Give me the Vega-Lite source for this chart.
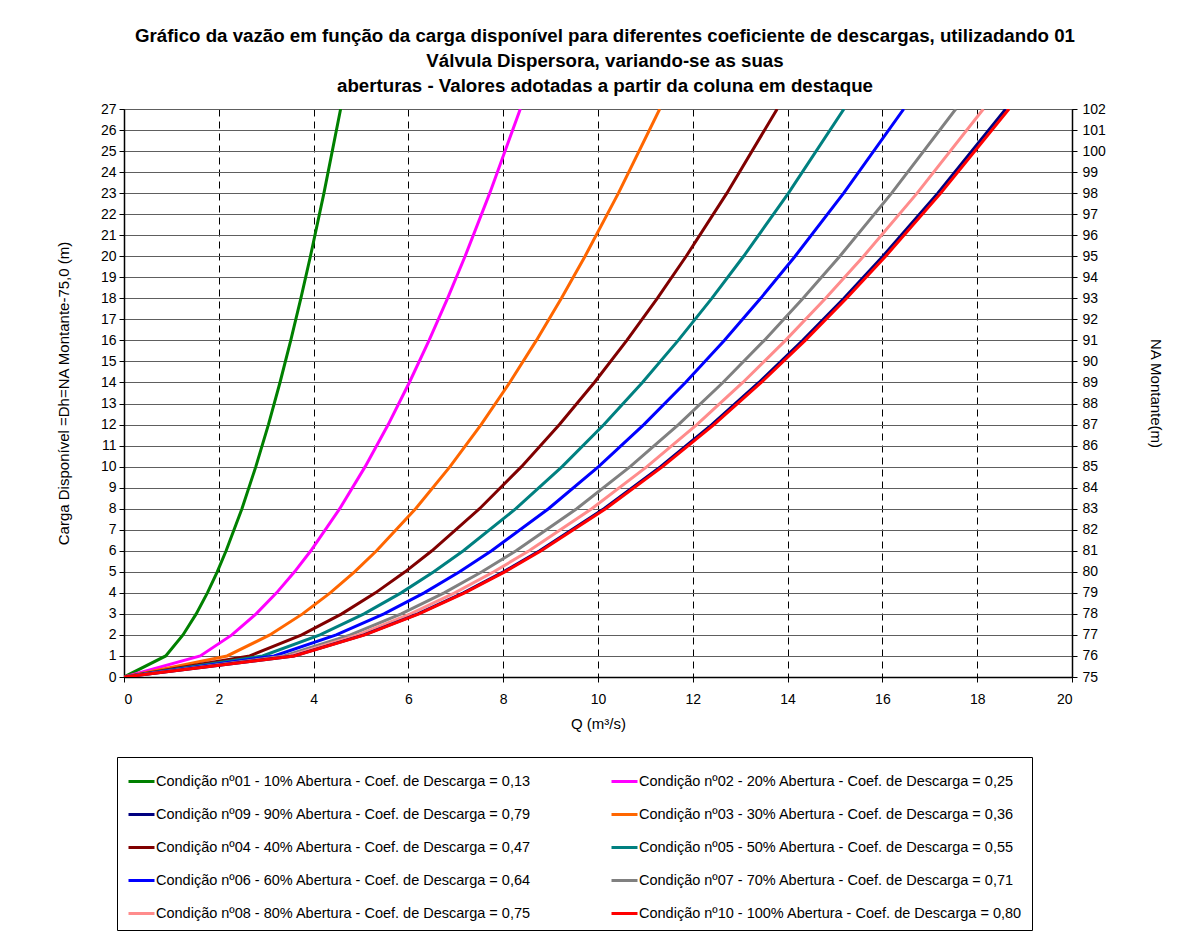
{
  "$schema": "https://vega.github.io/schema/vega-lite/v6.json",
  "width": 948,
  "height": 568,
  "autosize": {"type": "none"},
  "padding": {"left": 124, "top": 109, "right": 114, "bottom": 268},
  "background": "white",
  "title": {
    "text": ["Gráfico da vazão em função da carga disponível para diferentes coeficiente de descargas, utilizadando 01", "Válvula Dispersora, variando-se as suas", "aberturas - Valores adotadas a partir da coluna em destaque"],
    "font": "Liberation Sans",
    "fontSize": 18.7,
    "fontWeight": "bold",
    "color": "black",
    "lineHeight": 25,
    "anchor": "middle",
    "dx": 7,
    "offset": 6
  },
  "datasets": {
    "series": [
      {"s": "01", "label": "Condição nº01 - 10% Abertura - Coef. de Descarga = 0,13"},
      {"s": "02", "label": "Condição nº02 - 20% Abertura - Coef. de Descarga = 0,25"},
      {"s": "03", "label": "Condição nº03 - 30% Abertura - Coef. de Descarga = 0,36"},
      {"s": "04", "label": "Condição nº04 - 40% Abertura - Coef. de Descarga = 0,47"},
      {"s": "05", "label": "Condição nº05 - 50% Abertura - Coef. de Descarga = 0,55"},
      {"s": "06", "label": "Condição nº06 - 60% Abertura - Coef. de Descarga = 0,64"},
      {"s": "07", "label": "Condição nº07 - 70% Abertura - Coef. de Descarga = 0,71"},
      {"s": "08", "label": "Condição nº08 - 80% Abertura - Coef. de Descarga = 0,75"},
      {"s": "09", "label": "Condição nº09 - 90% Abertura - Coef. de Descarga = 0,79"},
      {"s": "10", "label": "Condição nº10 - 100% Abertura - Coef. de Descarga = 0,80"}
    ]
  },
  "data": {
    "values": [
      {"s":"01","h":0,"q":0},{"s":"01","h":1,"q":0.880},{"s":"01","h":2,"q":1.244},{"s":"01","h":3,"q":1.523},{"s":"01","h":4,"q":1.759},{"s":"01","h":5,"q":1.967},{"s":"01","h":6,"q":2.154},{"s":"01","h":8,"q":2.488},{"s":"01","h":10,"q":2.781},{"s":"01","h":12,"q":3.047},{"s":"01","h":14,"q":3.291},{"s":"01","h":16,"q":3.518},{"s":"01","h":18,"q":3.731},{"s":"01","h":20,"q":3.933},{"s":"01","h":23,"q":4.218},{"s":"01","h":27,"q":4.570},
      {"s":"02","h":0,"q":0},{"s":"02","h":1,"q":1.609},{"s":"02","h":2,"q":2.276},{"s":"02","h":3,"q":2.787},{"s":"02","h":4,"q":3.218},{"s":"02","h":5,"q":3.598},{"s":"02","h":6,"q":3.941},{"s":"02","h":8,"q":4.551},{"s":"02","h":10,"q":5.088},{"s":"02","h":12,"q":5.574},{"s":"02","h":14,"q":6.020},{"s":"02","h":16,"q":6.436},{"s":"02","h":18,"q":6.826},{"s":"02","h":20,"q":7.196},{"s":"02","h":23,"q":7.716},{"s":"02","h":27,"q":8.361},
      {"s":"03","h":0,"q":0},{"s":"03","h":1,"q":2.175},{"s":"03","h":2,"q":3.076},{"s":"03","h":3,"q":3.767},{"s":"03","h":4,"q":4.350},{"s":"03","h":5,"q":4.864},{"s":"03","h":6,"q":5.328},{"s":"03","h":8,"q":6.152},{"s":"03","h":10,"q":6.878},{"s":"03","h":12,"q":7.534},{"s":"03","h":14,"q":8.138},{"s":"03","h":16,"q":8.700},{"s":"03","h":18,"q":9.228},{"s":"03","h":20,"q":9.727},{"s":"03","h":23,"q":10.431},{"s":"03","h":27,"q":11.302},
      {"s":"04","h":0,"q":0},{"s":"04","h":1,"q":2.652},{"s":"04","h":2,"q":3.750},{"s":"04","h":3,"q":4.594},{"s":"04","h":4,"q":5.304},{"s":"04","h":5,"q":5.930},{"s":"04","h":6,"q":6.496},{"s":"04","h":8,"q":7.501},{"s":"04","h":10,"q":8.386},{"s":"04","h":12,"q":9.187},{"s":"04","h":14,"q":9.923},{"s":"04","h":16,"q":10.608},{"s":"04","h":18,"q":11.251},{"s":"04","h":20,"q":11.860},{"s":"04","h":23,"q":12.719},{"s":"04","h":27,"q":13.780},
      {"s":"05","h":0,"q":0},{"s":"05","h":1,"q":2.923},{"s":"05","h":2,"q":4.134},{"s":"05","h":3,"q":5.063},{"s":"05","h":4,"q":5.846},{"s":"05","h":5,"q":6.536},{"s":"05","h":6,"q":7.160},{"s":"05","h":8,"q":8.267},{"s":"05","h":10,"q":9.243},{"s":"05","h":12,"q":10.126},{"s":"05","h":14,"q":10.937},{"s":"05","h":16,"q":11.692},{"s":"05","h":18,"q":12.401},{"s":"05","h":20,"q":13.072},{"s":"05","h":23,"q":14.018},{"s":"05","h":27,"q":15.189},
      {"s":"06","h":0,"q":0},{"s":"06","h":1,"q":3.166},{"s":"06","h":2,"q":4.477},{"s":"06","h":3,"q":5.484},{"s":"06","h":4,"q":6.332},{"s":"06","h":5,"q":7.080},{"s":"06","h":6,"q":7.755},{"s":"06","h":8,"q":8.955},{"s":"06","h":10,"q":10.012},{"s":"06","h":12,"q":10.967},{"s":"06","h":14,"q":11.846},{"s":"06","h":16,"q":12.664},{"s":"06","h":18,"q":13.432},{"s":"06","h":20,"q":14.159},{"s":"06","h":23,"q":15.183},{"s":"06","h":27,"q":16.451},
      {"s":"07","h":0,"q":0},{"s":"07","h":1,"q":3.377},{"s":"07","h":2,"q":4.776},{"s":"07","h":3,"q":5.849},{"s":"07","h":4,"q":6.754},{"s":"07","h":5,"q":7.551},{"s":"07","h":6,"q":8.272},{"s":"07","h":8,"q":9.551},{"s":"07","h":10,"q":10.679},{"s":"07","h":12,"q":11.698},{"s":"07","h":14,"q":12.636},{"s":"07","h":16,"q":13.508},{"s":"07","h":18,"q":14.327},{"s":"07","h":20,"q":15.102},{"s":"07","h":23,"q":16.195},{"s":"07","h":27,"q":17.548},
      {"s":"08","h":0,"q":0},{"s":"08","h":1,"q":3.489},{"s":"08","h":2,"q":4.934},{"s":"08","h":3,"q":6.043},{"s":"08","h":4,"q":6.978},{"s":"08","h":5,"q":7.802},{"s":"08","h":6,"q":8.546},{"s":"08","h":8,"q":9.868},{"s":"08","h":10,"q":11.033},{"s":"08","h":12,"q":12.086},{"s":"08","h":14,"q":13.055},{"s":"08","h":16,"q":13.956},{"s":"08","h":18,"q":14.802},{"s":"08","h":20,"q":15.603},{"s":"08","h":23,"q":16.733},{"s":"08","h":27,"q":18.130},
      {"s":"09","h":0,"q":0},{"s":"09","h":1,"q":3.580},{"s":"09","h":2,"q":5.063},{"s":"09","h":3,"q":6.201},{"s":"09","h":4,"q":7.160},{"s":"09","h":5,"q":8.005},{"s":"09","h":6,"q":8.769},{"s":"09","h":8,"q":10.126},{"s":"09","h":10,"q":11.321},{"s":"09","h":12,"q":12.401},{"s":"09","h":14,"q":13.395},{"s":"09","h":16,"q":14.320},{"s":"09","h":18,"q":15.189},{"s":"09","h":20,"q":16.010},{"s":"09","h":23,"q":17.169},{"s":"09","h":27,"q":18.602},
      {"s":"10","h":0,"q":0},{"s":"10","h":1,"q":3.593},{"s":"10","h":2,"q":5.081},{"s":"10","h":3,"q":6.223},{"s":"10","h":4,"q":7.186},{"s":"10","h":5,"q":8.034},{"s":"10","h":6,"q":8.801},{"s":"10","h":8,"q":10.162},{"s":"10","h":10,"q":11.362},{"s":"10","h":12,"q":12.447},{"s":"10","h":14,"q":13.444},{"s":"10","h":16,"q":14.372},{"s":"10","h":18,"q":15.244},{"s":"10","h":20,"q":16.068},{"s":"10","h":23,"q":17.231},{"s":"10","h":27,"q":18.670}
    ]
  },
  "transform": [
    {"lookup": "s", "from": {"data": {"name": "series"}, "key": "s", "fields": ["label"]}}
  ],
  "layer": [
    {
      "mark": {"type": "line", "strokeWidth": 3, "clip": true},
      "encoding": {
        "x": {
          "field": "q", "type": "quantitative",
          "scale": {"domain": [0, 20], "nice": false},
          "axis": {
            "title": "Q (m³/s)", "values": [0, 2, 4, 6, 8, 10, 12, 14, 16, 18, 20],
            "grid": true, "gridColor": "black", "gridDash": [7, 5], "gridOpacity": 1, "gridWidth": 1,
            "domainColor": "black", "tickColor": "black", "tickSize": 5, "labelPadding": 10, "titlePadding": 10
          }
        },
        "y": {
          "field": "h", "type": "quantitative",
          "scale": {"domain": [0, 27], "nice": false},
          "axis": {
            "title": "Carga  Disponível =Dh=NA Montante-75,0 (m)",
            "values": [0,1,2,3,4,5,6,7,8,9,10,11,12,13,14,15,16,17,18,19,20,21,22,23,24,25,26,27],
            "grid": true, "gridColor": "#5e5e5e", "gridOpacity": 1, "gridWidth": 1,
            "domainColor": "black", "tickColor": "black", "tickSize": 5, "labelPadding": 3, "titlePadding": 29
          }
        },
        "color": {
          "field": "label", "type": "nominal",
          "scale": {
            "domain": [
              "Condição nº01 - 10% Abertura - Coef. de Descarga = 0,13",
              "Condição nº09 - 90% Abertura - Coef. de Descarga = 0,79",
              "Condição nº04 - 40% Abertura - Coef. de Descarga = 0,47",
              "Condição nº06 - 60% Abertura - Coef. de Descarga = 0,64",
              "Condição nº08 - 80% Abertura - Coef. de Descarga = 0,75",
              "Condição nº02 - 20% Abertura - Coef. de Descarga = 0,25",
              "Condição nº03 - 30% Abertura - Coef. de Descarga = 0,36",
              "Condição nº05 - 50% Abertura - Coef. de Descarga = 0,55",
              "Condição nº07 - 70% Abertura - Coef. de Descarga = 0,71",
              "Condição nº10 - 100% Abertura - Coef. de Descarga = 0,80"
            ],
            "range": ["#008000", "#000080", "#800000", "#0000ff", "#ff8c8c", "#ff00ff", "#ff6600", "#008080", "#808080", "#ff0000"]
          },
          "legend": {
            "title": null,
            "orient": "none",
            "legendX": -7,
            "legendY": 648,
            "columns": 2,
            "columnPadding": 74,
            "rowPadding": 12,
            "symbolType": "stroke",
            "symbolSize": 676,
            "symbolStrokeWidth": 3,
            "labelOffset": 0,
            "labelLimit": 500,
            "labelFontSize": 14.5,
            "labelFont": "Liberation Sans",
            "labelColor": "black",
            "strokeColor": "black",
            "padding": 10,
            "fillColor": "white"
          }
        },
        "order": {"field": "h", "type": "quantitative"}
      }
    },
    {
      "mark": {"type": "line", "opacity": 0},
      "encoding": {
        "x": {"field": "q", "type": "quantitative"},
        "y": {
          "field": "h", "type": "quantitative",
          "scale": {"domain": [0, 27], "nice": false},
          "axis": {
            "orient": "right",
            "title": "NA Montante(m)",
            "values": [0,1,2,3,4,5,6,7,8,9,10,11,12,13,14,15,16,17,18,19,20,21,22,23,24,25,26,27],
            "labelExpr": "datum.value + 75",
            "grid": false,
            "domainColor": "black", "tickColor": "black", "tickSize": 5, "labelPadding": 5, "titlePadding": 42
          }
        }
      }
    }
  ],
  "resolve": {"scale": {"y": "independent"}},
  "config": {
    "font": "Liberation Sans",
    "view": {"stroke": "#808080", "strokeWidth": 1},
    "axis": {
      "labelFont": "Liberation Sans",
      "labelFontSize": 14,
      "labelColor": "black",
      "titleFont": "Liberation Sans",
      "titleFontSize": 15,
      "titleFontWeight": "normal",
      "titleColor": "black",
      "domainWidth": 1.5
    }
  }
}
